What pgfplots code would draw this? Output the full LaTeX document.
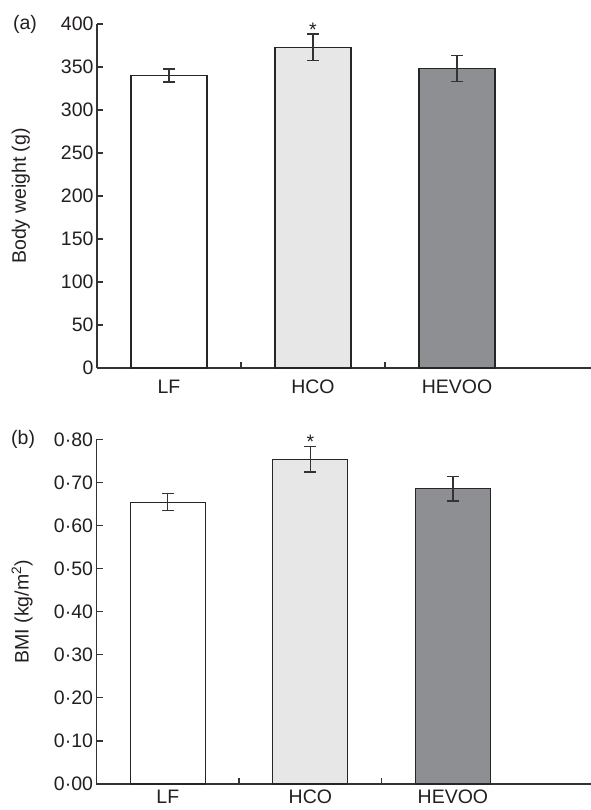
\documentclass[border=0pt]{standalone}
\usepackage{fontspec}
\setmainfont{Liberation Sans}
\usepackage{pgfplots}
\pgfplotsset{compat=1.18}
\definecolor{txt}{HTML}{231F20}
\definecolor{axc}{HTML}{333333}
\definecolor{hco}{HTML}{E6E7E6}
\definecolor{hevoo}{HTML}{8E8F92}
\newcommand{\myfontA}{\fontsize{19.5}{23}\selectfont}
\pgfplotsset{
  panel/.style={
    scale only axis,
    anchor=south west,
    xmin=-0.5, xmax=3.0,
    axis x line*=bottom, axis y line*=left,
    axis line style={axc, line width=1.2pt},
    tick align=inside,
    major tick length=6pt,
    tick style={axc, line width=1.2pt},
    xtick={0.5,1.5}, xticklabels={},
    extra x ticks={0,1,2},
    extra x tick labels={LF,HCO,HEVOO},
    extra x tick style={major tick length=0pt},
    tick label style={font=\myfontA, text=txt},
    label style={font=\myfontA, text=txt},
    /pgf/number format/assume math mode=true,
    clip=false,
  },
  bstyle/.style={ybar, bar shift=0pt, draw=black!85, line width=1.1pt,
    error bars/y dir=both, error bars/y explicit,
    error bars/error bar style={axc, line width=1.3pt},
    error bars/error mark options={rotate=90, mark size=6pt, line width=1.3pt, axc}},
}
\begin{document}
\begin{tikzpicture}[x=1pt,y=1pt]
% ---------- (a) ----------
\begin{axis}[panel,
  at={(97pt,442pt)},
  width=504pt, height=344pt,
  ymin=0, ymax=400,
  ytick={0,50,...,400},
  bar width=76pt,
  x tick label style={yshift=-8.5pt},
  ylabel={Body weight (g)},
  ylabel style={at={(axis description cs:-0.151,0.5)}, anchor=center},
]
\addplot[bstyle, fill=white] coordinates {(0,340) +- (0,7.5)};
\addplot[bstyle, fill=hco] coordinates {(1,373) +- (0,15.5)};
\addplot[bstyle, fill=hevoo] coordinates {(2,348) +- (0,15)};
\node[font=\myfontA, text=txt, anchor=base, inner sep=0pt] at (axis cs:1,385.5) {*};
\node[font=\myfontA, text=txt, anchor=center] at (axis description cs:-0.143,1) {(a)};
\end{axis}
% ---------- (b) ----------
\begin{axis}[panel,
  at={(96.5pt,26pt)},
  width=499pt, height=344.7pt,
  ymin=0, ymax=0.8,
  ytick={0,0.1,...,0.8},
  yticklabels={0·00,0·10,0·20,0·30,0·40,0·50,0·60,0·70,0·80},
  bar width=75pt,
  x tick label style={yshift=-2.5pt},
  ylabel={BMI (kg/m\textsuperscript{2})},
  ylabel style={at={(axis description cs:-0.149,0.5)}, anchor=center},
]
\addplot[bstyle, fill=white] coordinates {(0,0.654) +- (0,0.02)};
\addplot[bstyle, fill=hco] coordinates {(1,0.754) +- (0,0.03)};
\addplot[bstyle, fill=hevoo] coordinates {(2,0.685) +- (0,0.028)};
\node[font=\myfontA, text=txt, anchor=base, inner sep=0pt] at (axis cs:1,0.778) {*};
\node[font=\myfontA, text=txt, anchor=center] at (axis description cs:-0.147,1) {(b)};
\end{axis}
\pgfresetboundingbox
\path (0,0) rectangle (590,810);
\end{tikzpicture}
\end{document}
